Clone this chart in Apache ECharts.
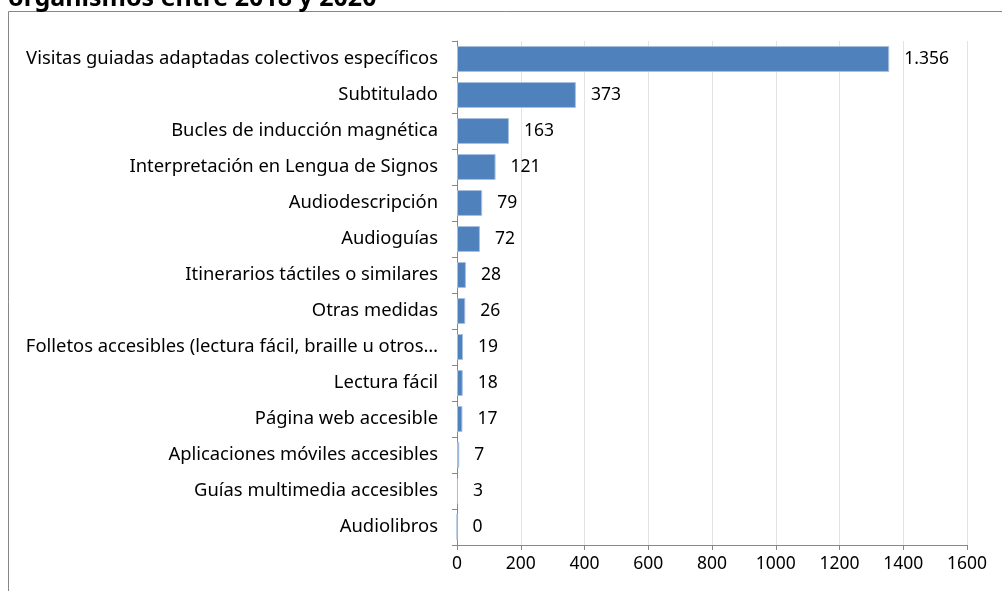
<!DOCTYPE html>
<html><head><meta charset="utf-8">
<script src="https://cdn.jsdelivr.net/npm/echarts@6/dist/echarts.min.js"></script>
<style>html,body{margin:0;padding:0;background:#fff;}#c{width:1002px;height:591px;}</style>
</head><body><div id="c"></div>
<script>
const titleText = 'organismos entre 2018 y 2020';
const categories = [
  'Visitas guiadas adaptadas colectivos específicos',
  'Subtitulado',
  'Bucles de inducción magnética',
  'Interpretación en Lengua de Signos',
  'Audiodescripción',
  'Audioguías',
  'Itinerarios táctiles o similares',
  'Otras medidas',
  'Folletos accesibles (lectura fácil, braille u otros…',
  'Lectura fácil',
  'Página web accesible',
  'Aplicaciones móviles accesibles',
  'Guías multimedia accesibles',
  'Audiolibros'
];
const values = [1356, 373, 163, 121, 79, 72, 28, 26, 19, 18, 17, 7, 3, 0];
const xTicks = [0, 200, 400, 600, 800, 1000, 1200, 1400, 1600];

const FONT = '"Noto Sans", sans-serif';
const chart = echarts.init(document.getElementById('c'), null, {renderer: 'canvas'});
chart.setOption({
  animation: false,
  graphic: [
    {type: 'rect', shape: {x: 8.5, y: 11.5, width: 1100, height: 700},
     style: {fill: 'none', stroke: '#878787', lineWidth: 1}, z: -1},
    {type: 'text', x: 8, y: 11,
     style: {text: titleText, font: 'bold 25px "Noto Sans", sans-serif', fill: '#000', verticalAlign: 'bottom'}}
  ],
  grid: {left: 457, right: 35, top: 41, bottom: 46, containLabel: false},
  xAxis: {
    type: 'value', min: xTicks[0], max: xTicks[xTicks.length - 1], interval: 200,
    axisLine: {show: true, lineStyle: {color: '#888', width: 1}},
    axisTick: {show: true, length: 5, lineStyle: {color: '#888'}},
    axisLabel: {color: '#000', fontSize: 17.5, fontFamily: FONT, margin: 10,
      formatter: v => String(v)},
    splitLine: {show: true, lineStyle: {color: '#e3e3e3', width: 1}}
  },
  yAxis: {
    type: 'category', data: categories, inverse: true,
    axisLine: {show: true, lineStyle: {color: '#888', width: 1}},
    axisTick: {show: true, length: 5, lineStyle: {color: '#888'}},
    axisLabel: {color: '#000', fontSize: 18.4, fontFamily: FONT, margin: 19}
  },
  series: [{
    type: 'bar', data: values, barCategoryGap: '28%',
    itemStyle: {color: '#4f81bd', borderColor: '#a7c0de', borderWidth: 1},
    label: {show: true, position: 'right', distance: 15, color: '#000', fontSize: 17.5, fontFamily: FONT,
      formatter: p => p.value.toString().replace(/\B(?=(\d{3})+(?!\d))/g, '.')}
  }]
});
</script></body></html>
